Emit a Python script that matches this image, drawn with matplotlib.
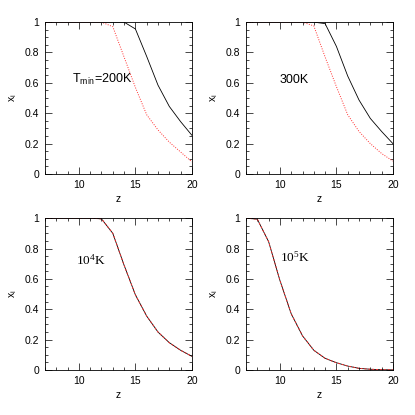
import matplotlib
matplotlib.use("Agg")
import matplotlib.pyplot as plt
from matplotlib.ticker import MultipleLocator

plt.rcParams["font.family"] = ["Liberation Sans", "DejaVu Sans"]

z = [7, 8, 9, 10, 11, 12, 13, 14, 15, 16, 17, 18, 19, 20]

# T_min = 200K
xi_200_black = [1, 1, 1, 1, 1, 1, 1, 1.0, 0.955, 0.774, 0.585, 0.445, 0.345, 0.255]
xi_200_red = [1, 1, 1, 1, 1, 1.0, 0.97, 0.77, 0.57, 0.39, 0.29, 0.21, 0.145, 0.08]
# 300K
xi_300_black = [1, 1, 1, 1, 1, 1, 1, 0.99, 0.84, 0.645, 0.487, 0.366, 0.28, 0.2]
xi_300_red = [1, 1, 1, 1, 1, 1.0, 0.975, 0.77, 0.575, 0.39, 0.28, 0.2, 0.135, 0.085]
# 10^4 K
xi_1e4_black = [1, 1, 1, 1, 1, 0.995, 0.9, 0.69, 0.495, 0.355, 0.25, 0.18, 0.13, 0.09]
xi_1e4_red = [1, 1, 1, 1, 1, 0.995, 0.9, 0.69, 0.495, 0.355, 0.25, 0.18, 0.13, 0.09]
# 10^5 K
xi_1e5_black = [1, 0.993, 0.845, 0.59, 0.37, 0.225, 0.13, 0.077, 0.048, 0.026, 0.011, 0.005, 0.002, 0.001]
xi_1e5_red = [1, 0.993, 0.845, 0.59, 0.37, 0.225, 0.13, 0.077, 0.048, 0.026, 0.011, 0.005, 0.002, 0.001]

labels = [r"$\mathregular{T_{min}}$=200K", "300K", r"$\mathregular{10^4}$K", r"$\mathregular{10^5}$K"]
label_fonts = ["Liberation Sans", "Liberation Sans", "Liberation Serif", "Liberation Serif"]
label_sizes = [9, 9, 9.5, 9.5]
label_pos = [(9.4, 0.62), (10.0, 0.62), (9.75, 0.72), (10.0, 0.74)]

panels = [
    (xi_200_black, xi_200_red, (0, (1, 1.5))),
    (xi_300_black, xi_300_red, (0, (1, 1.5))),
    (xi_1e4_black, xi_1e4_red, (0, (2, 2))),
    (xi_1e5_black, xi_1e5_red, (0, (2, 2))),
]

fig = plt.figure(figsize=(4.15, 4.15), dpi=100)
lefts = [0.1084, 0.5928]
bottoms = [0.5807, 0.1084]
w, h = 0.354, 0.366

for i, (blk, red, ls) in enumerate(panels):
    ax = fig.add_axes([lefts[i % 2], bottoms[i // 2], w, h])
    ax.plot(z, blk, color="black", lw=0.6)
    ax.plot(z, red, color="#ff3030", lw=0.7, ls=ls)
    ax.set_xlim(7, 20)
    ax.set_ylim(0, 1)
    ax.xaxis.set_major_locator(MultipleLocator(5))
    ax.xaxis.set_minor_locator(MultipleLocator(1))
    ax.yaxis.set_minor_locator(MultipleLocator(0.05))
    ax.set_yticks([0, 0.2, 0.4, 0.6, 0.8, 1])
    ax.set_yticklabels(["0", "0.2", "0.4", "0.6", "0.8", "1"])
    ax.tick_params(which="both", direction="in", top=True, right=True,
                   labelsize=7.5, width=0.5, pad=4)
    ax.tick_params(which="major", length=5)
    ax.tick_params(which="minor", length=2.5)
    for s in ax.spines.values():
        s.set_linewidth(0.6)
    ax.set_xlabel("z", fontsize=7.5, labelpad=3)
    ax.set_ylabel(r"$\mathregular{x_i}$", fontsize=7.5, labelpad=4)
    ax.text(label_pos[i][0], label_pos[i][1], labels[i], fontsize=label_sizes[i],
            family=label_fonts[i], va="center", ha="left")

plt.savefig("out.png", dpi=100)
